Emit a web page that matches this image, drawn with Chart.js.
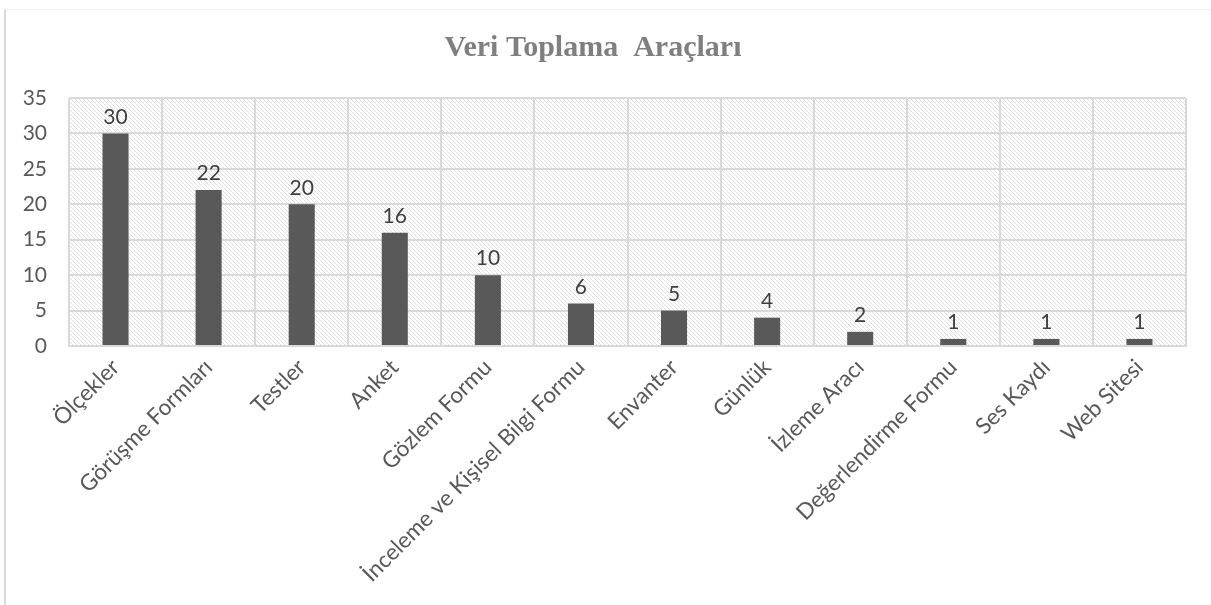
<!DOCTYPE html>
<html><head><meta charset="utf-8">
<script src="https://cdn.jsdelivr.net/npm/chart.js@4/dist/chart.umd.min.js"></script>
<style>html,body{margin:0;padding:0;background:#fff}#wrap{width:1211px;height:605px}</style>
</head><body><div id="wrap"><canvas id="c" width="1211" height="605"></canvas></div>
<script>
const categories = ["Ölçekler","Görüşme Formları","Testler","Anket","Gözlem Formu","İnceleme ve Kişisel Bilgi Formu","Envanter","Günlük","İzleme Aracı","Değerlendirme Formu","Ses Kaydı","Web Sitesi"];
const values = [30,22,20,16,10,6,5,4,2,1,1,1];
const yTicks = [0,5,10,15,20,25,30,35];
const titleText = "Veri Toplama  Araçları";

function makePattern(ctx){
  const p = document.createElement('canvas');
  p.width = 4; p.height = 4;
  const g = p.getContext('2d');
  g.fillStyle = '#ffffff'; g.fillRect(0,0,4,4);
  g.strokeStyle = '#e0e0e0'; g.lineWidth = 1;
  g.beginPath();
  g.moveTo(0,0); g.lineTo(4,4);
  g.moveTo(-2,2); g.lineTo(2,6);
  g.moveTo(2,-2); g.lineTo(6,2);
  g.stroke();
  return ctx.createPattern(p,'repeat');
}

const bgPlugin = {
  id:'bg',
  beforeDraw(chart){
    const {ctx, chartArea:a} = chart;
    ctx.save();
    ctx.fillStyle = '#fff'; ctx.fillRect(0,0,chart.width,chart.height);
    ctx.strokeStyle = '#d9d9d9'; ctx.lineWidth = 2;
    ctx.beginPath(); ctx.moveTo(5,605); ctx.lineTo(5,9); ctx.stroke();
    ctx.strokeStyle = '#f0f0f0'; ctx.lineWidth = 1;
    ctx.beginPath(); ctx.moveTo(5,9.5); ctx.lineTo(1211,9.5); ctx.stroke();
    ctx.fillStyle = makePattern(ctx);
    ctx.fillRect(a.left,a.top,a.right-a.left,a.bottom-a.top);
    ctx.restore();
  }
};
const labelPlugin = {
  id:'vals',
  afterDatasetsDraw(chart){
    const {ctx} = chart;
    const meta = chart.getDatasetMeta(0);
    ctx.save();
    ctx.fillStyle = '#404040';
    ctx.font = '21px Lato';
    ctx.textAlign = 'center'; ctx.textBaseline = 'bottom';
    meta.data.forEach((bar,i)=>{
      ctx.fillText(String(values[i]), bar.x, bar.y - 6);
    });
    ctx.restore();
  }
};

new Chart(document.getElementById('c'), {
  type:'bar',
  data:{labels:categories, datasets:[{data:values, backgroundColor:'#595959', barPercentage:0.56, categoryPercentage:0.5}]},
  options:{
    responsive:false, animation:false,
    layout:{padding:{top:24,right:25,bottom:0,left:0}},
    plugins:{
      legend:{display:false}, tooltip:{enabled:false},
      title:{display:true, text:titleText, color:'#7f7f7f', font:{family:'Liberation Serif', size:30, weight:'bold'}, padding:{top:6,bottom:32}}
    },
    scales:{
      x:{
        grid:{color:'#d9d9d9', lineWidth:2, drawTicks:false, offset:true},
        border:{color:'#d9d9d9', width:2},
        ticks:{color:'#595959', font:{family:'Lato', size:22.5}, maxRotation:45, minRotation:45, padding:8, autoSkip:false},
        afterFit(s){ s.height = 259; }
      },
      y:{
        min:0, max:35,
        grid:{color:'#d9d9d9', lineWidth:2, drawTicks:false},
        border:{display:false},
        ticks:{stepSize:5, color:'#595959', font:{family:'Lato', size:21}, padding:22,
          callback:(v)=> yTicks.includes(v) ? String(v) : ''},
        afterFit(s){ s.width = 69; }
      }
    }
  },
  plugins:[bgPlugin, labelPlugin]
});
</script></body></html>
